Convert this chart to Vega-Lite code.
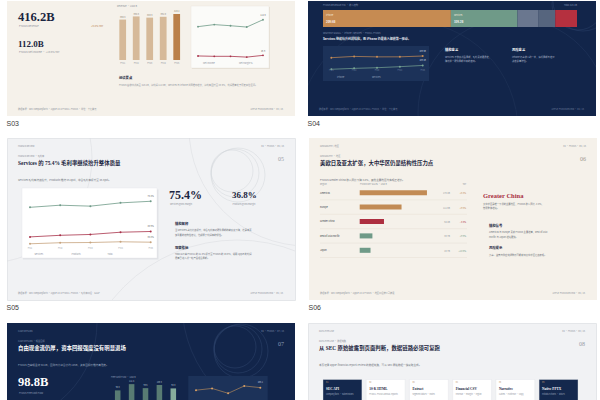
{
"$schema": "https://vega.github.io/schema/vega-lite/v6.json",
"background": "#ffffff",
"padding": {"left": 6, "top": 0, "right": 0, "bottom": 0},
"spacing": 10,
"config": {
 "view": {"stroke": null},
 "axis": {"disable": true},
 "legend": {"disable": true},
 "title": {"orient": "bottom", "anchor": "start", "fontSize": 7, "font": "Liberation Sans", "fontWeight": "normal", "color": "#3a3a3a", "offset": 4},
 "text": {"font": "Noto Sans CJK SC", "fontSize": 2.6, "color": "#8d919a", "align": "left", "baseline": "alphabetic"},
 "point": {"filled": true, "size": 3.5, "opacity": 1},
 "line": {"strokeWidth": 0.8},
 "style": {
  "num": {"font": "Liberation Serif", "fontWeight": "bold"}
 }
},
"datasets": {
 "one": [{}],
 "rev": [{"fy": "FY21", "v": 365.8}, {"fy": "FY22", "v": 394.3}, {"fy": "FY23", "v": 383.3}, {"fy": "FY24", "v": 391.0}, {"fy": "FY25", "v": 416.2}],
 "ni": [{"fy": "FY21", "v": 94.7}, {"fy": "FY22", "v": 99.8}, {"fy": "FY23", "v": 97.0}, {"fy": "FY24", "v": 93.7}, {"fy": "FY25", "v": 112.0}],
 "nm": [{"fy": "FY21", "v": 25.9}, {"fy": "FY22", "v": 25.3}, {"fy": "FY23", "v": 25.3}, {"fy": "FY24", "v": 24.0}, {"fy": "FY25", "v": 26.9}],
 "mix": [{"fy": "FY2025", "seg": "iPhone", "v": 209.6}, {"fy": "FY2025", "seg": "Services", "v": 109.2}, {"fy": "FY2025", "seg": "Mac", "v": 33.7}, {"fy": "FY2025", "seg": "iPad", "v": 28.0}, {"fy": "FY2025", "seg": "Wearables", "v": 35.7}],
 "seg": [
  {"s": "iPhone", "fy": "FY21", "v": 191.9}, {"s": "iPhone", "fy": "FY22", "v": 205.5}, {"s": "iPhone", "fy": "FY23", "v": 200.6}, {"s": "iPhone", "fy": "FY24", "v": 201.2}, {"s": "iPhone", "fy": "FY25", "v": 209.6},
  {"s": "Services", "fy": "FY21", "v": 68.4}, {"s": "Services", "fy": "FY22", "v": 78.1}, {"s": "Services", "fy": "FY23", "v": 85.2}, {"s": "Services", "fy": "FY24", "v": 96.2}, {"s": "Services", "fy": "FY25", "v": 109.2}],
 "gm": [
  {"s": "Services", "fy": "FY21", "v": 69.7}, {"s": "Services", "fy": "FY22", "v": 71.7}, {"s": "Services", "fy": "FY23", "v": 70.8}, {"s": "Services", "fy": "FY24", "v": 73.9}, {"s": "Services", "fy": "FY25", "v": 75.4},
  {"s": "Products", "fy": "FY21", "v": 35.3}, {"s": "Products", "fy": "FY22", "v": 36.3}, {"s": "Products", "fy": "FY23", "v": 36.5}, {"s": "Products", "fy": "FY24", "v": 37.2}, {"s": "Products", "fy": "FY25", "v": 36.8},
  {"s": "Total", "fy": "FY21", "v": 41.8}, {"s": "Total", "fy": "FY22", "v": 43.3}, {"s": "Total", "fy": "FY23", "v": 44.1}, {"s": "Total", "fy": "FY24", "v": 46.2}, {"s": "Total", "fy": "FY25", "v": 46.9}],
 "geo": [{"region": "Americas", "v": 178.4, "yoy": 0.068}, {"region": "Europe", "v": 111.0, "yoy": 0.096}, {"region": "Greater China", "v": 64.4, "yoy": -0.038}, {"region": "Rest of Asia Pacific", "v": 33.7, "yoy": 0.099}, {"region": "Japan", "v": 28.7, "yoy": 0.146}],
 "fcf": [{"fy": "FY21", "v": 93.0}, {"fy": "FY22", "v": 111.4}, {"fy": "FY23", "v": 99.6}, {"fy": "FY24", "v": 108.8}, {"fy": "FY25", "v": 98.8}],
 "ret": [{"fy": "FY21", "v": 100.0}, {"fy": "FY22", "v": 104.2}, {"fy": "FY23", "v": 92.6}, {"fy": "FY24", "v": 110.1}, {"fy": "FY25", "v": 106.1}],
 "flow": [{"step": "01", "name": "SEC API", "desc": "companyfacts · submissions"}, {"step": "02", "name": "10-K HTML", "desc": "FY2021–FY2025 annual reports"}, {"step": "03", "name": "Extract", "desc": "segment tables · notes"}, {"step": "04", "name": "Financial CSV", "desc": "revenue · margin · region"}, {"step": "05", "name": "Narrative", "desc": "claims · evidence · copy"}, {"step": "06", "name": "Native PPTX", "desc": "editable charts · tables"}]
},
"vconcat": [
 {"hconcat": [
  {"width": 288, "height": 115, "view": {"fill": "#f5f1ea"}, "title": "S03", "data": {"name": "one"},
   "resolve": {"scale": {"x": "independent", "y": "independent", "color": "independent"}},
   "layer": [
    {"mark": {"type": "text", "style": "num", "text": "416.2B", "x": 11, "y": 19.5, "fontSize": 12.5, "color": "#1b2540"}, "encoding": {}},
    {"mark": {"type": "text", "text": "FY2025 Revenue", "x": 12, "y": 26}, "encoding": {}},
    {"mark": {"type": "text", "text": "+6.4% YoY", "x": 84, "y": 26, "color": "#b9834f"}, "encoding": {}},
    {"mark": {"type": "text", "style": "num", "text": "112.0B", "x": 11, "y": 45.5, "fontSize": 9, "color": "#1b2540"}, "encoding": {}},
    {"mark": {"type": "text", "text": "FY2025 Net Income · +19.5% YoY", "x": 12, "y": 52}, "encoding": {}},
    {"mark": {"type": "text", "text": "Revenue · USD B", "x": 110, "y": 6, "fontSize": 2.4}, "encoding": {}},
    {"mark": {"type": "rule", "x": 108, "x2": 178, "y": 59.3, "stroke": "#ddd4c6", "strokeWidth": 0.4}, "encoding": {}},
    {"data": {"name": "rev"},
     "encoding": {"x": {"field": "fy", "type": "nominal", "sort": null, "scale": {"range": [108.95, 176.45], "paddingInner": 0.5, "paddingOuter": 0.25}},
                  "y": {"field": "v", "type": "quantitative", "scale": {"domain": [0, 416.2], "range": [59, 13]}}},
     "layer": [
      {"mark": {"type": "bar"}, "encoding": {"color": {"condition": {"test": "datum.fy === 'FY25'", "value": "#ba7f49"}, "value": "#d6b999"}}},
      {"mark": {"type": "text", "align": "center", "dy": -2, "fontSize": 2.2, "color": "#8a7f70"}, "encoding": {"text": {"field": "v", "type": "quantitative", "format": ".1f"}}},
      {"mark": {"type": "text", "align": "center", "dy": 4, "fontSize": 2.2}, "encoding": {"y": {"datum": 0}, "text": {"field": "fy"}}}
     ]},
    {"mark": {"type": "rect", "x": 185, "y": 6, "x2": 263, "y2": 68, "fill": "#e6e0d6"}, "encoding": {}},
    {"mark": {"type": "rect", "x": 184, "y": 5, "x2": 262, "y2": 67, "fill": "#fbfbf9", "stroke": "#e8e3da", "strokeWidth": 0.4}, "encoding": {}},
    {"mark": {"type": "rule", "x": 188, "x2": 259, "y": 13, "stroke": "#ebebe8", "strokeWidth": 0.4}, "encoding": {}},
    {"mark": {"type": "rule", "x": 188, "x2": 259, "y": 29, "stroke": "#ebebe8", "strokeWidth": 0.4}, "encoding": {}},
    {"mark": {"type": "rule", "x": 188, "x2": 259, "y": 43, "stroke": "#ebebe8", "strokeWidth": 0.4}, "encoding": {}},
    {"data": {"name": "ni"},
     "encoding": {"x": {"field": "fy", "type": "ordinal", "scale": {"type": "point", "range": [191, 256], "padding": 0}},
                  "y": {"field": "v", "type": "quantitative", "scale": {"domain": [0, 130], "range": [63.6, 11.5]}}},
     "layer": [
      {"mark": {"type": "line", "color": "#6f9a88"}, "encoding": {}},
      {"mark": {"type": "point", "color": "#6f9a88"}, "encoding": {}},
      {"transform": [{"filter": "datum.fy === 'FY25'"}], "mark": {"type": "text", "align": "center", "dy": -4, "fontSize": 2.2, "color": "#666"}, "encoding": {"text": {"field": "v", "type": "quantitative", "format": ".1f"}}}
     ]},
    {"data": {"name": "nm"},
     "encoding": {"x": {"field": "fy", "type": "ordinal", "scale": {"type": "point", "range": [191, 256], "padding": 0}},
                  "y": {"field": "v", "type": "quantitative", "scale": {"domain": [0, 100], "range": [70.5, 10.5]}}},
     "layer": [
      {"mark": {"type": "line", "color": "#a8324a"}, "encoding": {}},
      {"mark": {"type": "point", "color": "#a8324a"}, "encoding": {}},
      {"transform": [{"filter": "datum.fy === 'FY25'"}], "mark": {"type": "text", "align": "center", "dy": -4, "fontSize": 2.2, "color": "#666"}, "encoding": {"text": {"field": "v", "type": "quantitative", "format": ".1f"}}}
     ]},
    {"mark": {"type": "rule", "x": 191, "x2": 194.5, "y": 62, "stroke": "#6f9a88", "strokeWidth": 1.2}, "encoding": {}},
    {"mark": {"type": "text", "text": "Net Income", "x": 196, "y": 62.9, "fontSize": 2.2}, "encoding": {}},
    {"mark": {"type": "rule", "x": 227, "x2": 230.5, "y": 62, "stroke": "#a8324a", "strokeWidth": 1.2}, "encoding": {}},
    {"mark": {"type": "text", "text": "Net Margin %", "x": 232, "y": 62.9, "fontSize": 2.2}, "encoding": {}},
    {"mark": {"type": "rule", "x": 109, "x2": 109, "y": 73, "y2": 88, "stroke": "#a47d55", "strokeWidth": 1}, "encoding": {}},
    {"mark": {"type": "text", "text": "阅读要点", "x": 112, "y": 77.5, "fontSize": 3.3, "fontWeight": "bold", "color": "#1b2540"}, "encoding": {}},
    {"mark": {"type": "text", "text": "FY2025 营收创新高至 416.2B，净利润 112.0B；Services 与 iPhone 共同推动增长，净利率回升至 26.9%，利润质量处于历史高位区间。", "x": 112, "y": 85, "fontSize": 2.3}, "encoding": {}},
    {"mark": {"type": "rule", "x": 11, "x2": 276, "y": 104, "stroke": "#d2cbbf", "strokeWidth": 0.6}, "encoding": {}},
    {"mark": {"type": "text", "text": "数据来源：SEC companyfacts · Apple 10-K FY2021–FY2025 · 单位：十亿美元", "x": 11, "y": 108.6, "fontSize": 2.2}, "encoding": {}},
    {"mark": {"type": "text", "text": "APPLE FY2025 REVIEW · 03 / 16", "x": 276, "y": 108.6, "fontSize": 2.2, "align": "right"}, "encoding": {}}
   ]},
  {"width": 288, "height": 115, "view": {"fill": "#12254a"}, "title": "S04", "data": {"name": "one"},
   "resolve": {"scale": {"x": "independent", "y": "independent", "color": "independent"}},
   "layer": [
    {"mark": {"type": "point", "shape": "circle", "x": 205, "y": 112, "size": 36100, "filled": false, "stroke": "#25395f", "strokeWidth": 0.5, "clip": true}, "encoding": {}},
    {"mark": {"type": "point", "shape": "circle", "x": 100, "y": 130, "size": 48400, "filled": false, "stroke": "#22365b", "strokeWidth": 0.5, "clip": true}, "encoding": {}},
    {"mark": {"type": "point", "shape": "circle", "x": 275, "y": 0, "size": 3600, "filled": false, "stroke": "#2b4068", "strokeWidth": 0.5, "clip": true}, "encoding": {}},
    {"mark": {"type": "point", "shape": "circle", "x": 270, "y": 3, "size": 2704, "filled": false, "stroke": "#2b4068", "strokeWidth": 0.5, "clip": true}, "encoding": {}},
    {"mark": {"type": "text", "text": "FY2025 REVENUE MIX · 收入结构", "x": 15, "y": 5, "fontSize": 2.3, "color": "#7f8fae"}, "encoding": {}},
    {"mark": {"type": "text", "text": "Total 416.2B", "x": 269, "y": 5, "fontSize": 2.3, "color": "#7f8fae", "align": "right"}, "encoding": {}},
    {"data": {"name": "mix"},
     "transform": [{"window": [{"op": "row_number", "as": "idx"}]}, {"stack": "v", "groupby": [], "sort": [{"field": "idx", "order": "ascending"}], "as": ["v0", "v1"]}, {"calculate": "format(datum.v, '.1f') + 'B'", "as": "lab"}],
     "encoding": {"x": {"field": "v0", "type": "quantitative", "scale": {"domain": [0, 416.2], "range": [15, 269]}},
                  "y": {"field": "fy", "type": "nominal", "scale": {"range": [9, 26], "paddingInner": 0, "paddingOuter": 0}}},
     "layer": [
      {"mark": {"type": "bar"}, "encoding": {"x2": {"field": "v1"}, "color": {"field": "seg", "type": "nominal", "scale": {"domain": ["iPhone", "Services", "Mac", "iPad", "Wearables"], "range": ["#c68b52", "#6f9a88", "#6a778f", "#56657e", "#b5303f"]}}}},
      {"transform": [{"filter": "datum.idx <= 2"}], "mark": {"type": "text", "dx": 3, "dy": -2.5, "fontSize": 2.2, "color": "#f3e8da"}, "encoding": {"text": {"field": "seg"}}},
      {"transform": [{"filter": "datum.idx <= 2"}], "mark": {"type": "text", "dx": 3, "dy": 4, "fontSize": 2.8, "fontWeight": "bold", "color": "#ffffff"}, "encoding": {"text": {"field": "lab"}}}
     ]},
    {"mark": {"type": "rule", "x": 15, "x2": 269, "y": 29, "stroke": "#2b4068", "strokeWidth": 0.4}, "encoding": {}},
    {"mark": {"type": "text", "text": "SEGMENT SIGNAL · iPhone / Services · FY2021–FY2025", "x": 15, "y": 33, "fontSize": 2.2, "color": "#7f8fae"}, "encoding": {}},
    {"mark": {"type": "text", "text": "Services 继续抬升利润结构，而 iPhone 仍是收入规模第一驱动。", "x": 15, "y": 39, "fontSize": 3, "fontWeight": "bold", "color": "#e8ecf3"}, "encoding": {}},
    {"mark": {"type": "rect", "x": 15, "y": 45, "x2": 121, "y2": 80, "fill": "#1c3259"}, "encoding": {}},
    {"data": {"name": "seg"},
     "transform": [{"calculate": "format(datum.v, '.1f') + 'B'", "as": "lab"}],
     "encoding": {"x": {"field": "fy", "type": "ordinal", "scale": {"type": "point", "range": [23.3, 114.7], "padding": 0}},
                  "y": {"field": "v", "type": "quantitative", "scale": {"domain": [0, 260], "range": [74.7, 50.3]}},
                  "color": {"field": "s", "type": "nominal", "scale": {"domain": ["iPhone", "Services"], "range": ["#c98d55", "#7aa694"]}}},
     "layer": [
      {"mark": {"type": "line", "strokeWidth": 0.7}, "encoding": {}},
      {"mark": {"type": "point", "size": 4}, "encoding": {}},
      {"transform": [{"filter": "datum.fy === 'FY25'"}], "mark": {"type": "text", "align": "center", "dy": -4, "fontSize": 2.1}, "encoding": {"text": {"field": "lab"}, "color": {"value": "#c9d2e0"}}},
      {"transform": [{"filter": "datum.s === 'Services'"}], "mark": {"type": "text", "align": "center", "fontSize": 2.1}, "encoding": {"y": {"datum": 42}, "text": {"field": "fy"}, "color": {"value": "#6f80a0"}}}
     ]},
    {"mark": {"type": "rule", "x": 24, "x2": 27.5, "y": 75.3, "stroke": "#c98d55", "strokeWidth": 1.2}, "encoding": {}},
    {"mark": {"type": "text", "text": "iPhone", "x": 29, "y": 76.2, "fontSize": 2.2, "color": "#9aa6bd"}, "encoding": {}},
    {"mark": {"type": "rule", "x": 59, "x2": 62.5, "y": 75.3, "stroke": "#7aa694", "strokeWidth": 1.2}, "encoding": {}},
    {"mark": {"type": "text", "text": "Services", "x": 64, "y": 76.2, "fontSize": 2.2, "color": "#9aa6bd"}, "encoding": {}},
    {"mark": {"type": "rule", "x": 133.7, "x2": 133.7, "y": 45, "y2": 72, "stroke": "#c08a55", "strokeWidth": 1}, "encoding": {}},
    {"mark": {"type": "text", "text": "结构意义", "x": 137, "y": 49.5, "fontSize": 3.3, "fontWeight": "bold", "color": "#ffffff"}, "encoding": {}},
    {"mark": {"type": "text", "text": "Services 不依赖新品周期，毛利贡献更稳定，", "x": 137, "y": 56.5, "fontSize": 2.3, "color": "#aab5c8"}, "encoding": {}},
    {"mark": {"type": "text", "text": "降低单一硬件周期带来的波动。", "x": 137, "y": 61, "fontSize": 2.3, "color": "#aab5c8"}, "encoding": {}},
    {"mark": {"type": "rule", "x": 200.7, "x2": 200.7, "y": 45, "y2": 72, "stroke": "#c08a55", "strokeWidth": 1}, "encoding": {}},
    {"mark": {"type": "text", "text": "风险意义", "x": 204, "y": 49.5, "fontSize": 3.3, "fontWeight": "bold", "color": "#ffffff"}, "encoding": {}},
    {"mark": {"type": "text", "text": "iPhone 仍占收入约一半，换机周期与定价", "x": 204, "y": 56.5, "fontSize": 2.3, "color": "#aab5c8"}, "encoding": {}},
    {"mark": {"type": "text", "text": "决定总量弹性。", "x": 204, "y": 61, "fontSize": 2.3, "color": "#aab5c8"}, "encoding": {}},
    {"mark": {"type": "rule", "x": 11, "x2": 276, "y": 104, "stroke": "#2b4068", "strokeWidth": 0.6}, "encoding": {}},
    {"mark": {"type": "text", "text": "数据来源：SEC companyfacts · Apple 10-K FY2021–FY2025 · 单位：十亿美元", "x": 11, "y": 108.6, "fontSize": 2.2, "color": "#6d7e9e"}, "encoding": {}},
    {"mark": {"type": "text", "text": "APPLE FY2025 REVIEW · 04 / 16", "x": 276, "y": 108.6, "fontSize": 2.2, "align": "right", "color": "#6d7e9e"}, "encoding": {}}
   ]}
 ], "spacing": 12},
 {"hconcat": [
  {"width": 288, "height": 162, "view": {"fill": "#f1f2f4", "stroke": "#e4e6e9"}, "title": "S05", "data": {"name": "one"},
   "resolve": {"scale": {"x": "independent", "y": "independent", "color": "independent"}},
   "layer": [
    {"mark": {"type": "point", "shape": "circle", "x": -20, "y": 20, "size": 44100, "filled": false, "stroke": "#d9dbdf", "strokeWidth": 0.5, "clip": true}, "encoding": {}},
    {"mark": {"type": "point", "shape": "circle", "x": 300, "y": -10, "size": 55696, "filled": false, "stroke": "#d9dbdf", "strokeWidth": 0.5, "clip": true}, "encoding": {}},
    {"mark": {"type": "point", "shape": "circle", "x": 230, "y": 262, "size": 102400, "filled": false, "stroke": "#d9dbdf", "strokeWidth": 0.5, "clip": true}, "encoding": {}},
    {"mark": {"type": "point", "shape": "circle", "x": 228, "y": 35, "size": 2304, "filled": false, "stroke": "#d3d6da", "strokeWidth": 0.5, "clip": true}, "encoding": {}},
    {"mark": {"type": "point", "shape": "circle", "x": 231, "y": 37, "size": 2916, "filled": false, "stroke": "#d3d6da", "strokeWidth": 0.5, "clip": true}, "encoding": {}},
    {"mark": {"type": "point", "shape": "circle", "x": 225, "y": 33, "size": 1764, "filled": false, "stroke": "#d3d6da", "strokeWidth": 0.5, "clip": true}, "encoding": {}},
    {"mark": {"type": "text", "text": "MARGIN REVIEW", "x": 11, "y": 9, "fontSize": 2.2}, "encoding": {}},
    {"mark": {"type": "text", "text": "04 · FY2025 · 05 / 16", "x": 277, "y": 9, "fontSize": 2.2, "align": "right"}, "encoding": {}},
    {"mark": {"type": "text", "text": "MARGIN REVIEW · 毛利率", "x": 11, "y": 19, "fontSize": 2.2}, "encoding": {}},
    {"mark": {"type": "text", "text": "Services 的 75.4% 毛利率继续抬升整体质量", "x": 11, "y": 27, "font": "Liberation Serif, Noto Sans CJK SC", "fontWeight": "bold", "fontSize": 5.4, "color": "#1b2540"}, "encoding": {}},
    {"mark": {"type": "text", "text": "05", "x": 277, "y": 23, "font": "Liberation Serif", "fontSize": 6, "align": "right", "color": "#9aa0a8"}, "encoding": {}},
    {"mark": {"type": "text", "text": "Services 毛利率持续抬升，Products 维持 36.8pct，综合毛利率提升至 46.9pct。", "x": 11, "y": 43, "fontSize": 2.6, "color": "#6f747c"}, "encoding": {}},
    {"mark": {"type": "rect", "x": 16, "y": 51.5, "x2": 151.5, "y2": 121.5, "fill": "#e1e3e7"}, "encoding": {}},
    {"mark": {"type": "rect", "x": 15, "y": 50, "x2": 150, "y2": 120, "fill": "#ffffff", "stroke": "#e4e6ea", "strokeWidth": 0.4}, "encoding": {}},
    {"mark": {"type": "rule", "x": 19, "x2": 147, "y": 62, "stroke": "#eef0f2", "strokeWidth": 0.4}, "encoding": {}},
    {"mark": {"type": "rule", "x": 19, "x2": 147, "y": 78, "stroke": "#eef0f2", "strokeWidth": 0.4}, "encoding": {}},
    {"mark": {"type": "rule", "x": 19, "x2": 147, "y": 94, "stroke": "#eef0f2", "strokeWidth": 0.4}, "encoding": {}},
    {"data": {"name": "gm"},
     "transform": [{"calculate": "format(datum.v, '.1f') + '%'", "as": "lab"}],
     "encoding": {"x": {"field": "fy", "type": "ordinal", "scale": {"type": "point", "range": [23, 143.7], "padding": 0}},
                  "y": {"field": "v", "type": "quantitative", "scale": {"domain": [30, 80], "range": [111.4, 58.4]}},
                  "color": {"field": "s", "type": "nominal", "scale": {"domain": ["Services", "Products", "Total"], "range": ["#6f9a88", "#c6a37d", "#a8324a"]}}},
     "layer": [
      {"mark": {"type": "line"}, "encoding": {}},
      {"mark": {"type": "point", "size": 4}, "encoding": {}},
      {"transform": [{"filter": "datum.fy === 'FY25'"}], "mark": {"type": "text", "align": "center", "dy": -4.5, "fontSize": 2.2}, "encoding": {"text": {"field": "lab"}, "color": {"value": "#666"}}},
      {"transform": [{"filter": "datum.s === 'Total'"}], "mark": {"type": "text", "align": "center", "fontSize": 2.1}, "encoding": {"y": {"datum": 30}, "text": {"field": "fy"}, "color": {"value": "#a0a4aa"}}}
     ]},
    {"mark": {"type": "rule", "x": 22, "x2": 26, "y": 115.3, "stroke": "#6f9a88", "strokeWidth": 1.2}, "encoding": {}},
    {"mark": {"type": "text", "text": "Services", "x": 27.5, "y": 116.2, "fontSize": 2.2}, "encoding": {}},
    {"mark": {"type": "rule", "x": 59, "x2": 63, "y": 115.3, "stroke": "#c6a37d", "strokeWidth": 1.2}, "encoding": {}},
    {"mark": {"type": "text", "text": "Products", "x": 64.5, "y": 116.2, "fontSize": 2.2}, "encoding": {}},
    {"mark": {"type": "rule", "x": 95, "x2": 99, "y": 115.3, "stroke": "#a8324a", "strokeWidth": 1.2}, "encoding": {}},
    {"mark": {"type": "text", "text": "Total", "x": 100.5, "y": 116.2, "fontSize": 2.2}, "encoding": {}},
    {"mark": {"type": "text", "style": "num", "text": "75.4%", "x": 162, "y": 61, "fontSize": 12, "color": "#1b2540"}, "encoding": {}},
    {"mark": {"type": "text", "text": "Services gross margin", "x": 163, "y": 66.5, "fontSize": 2.2}, "encoding": {}},
    {"mark": {"type": "rule", "x": 209, "x2": 209, "y": 52, "y2": 72, "stroke": "#d5d8dc", "strokeWidth": 0.5}, "encoding": {}},
    {"mark": {"type": "text", "style": "num", "text": "36.8%", "x": 225, "y": 59.5, "fontSize": 9, "color": "#1b2540"}, "encoding": {}},
    {"mark": {"type": "text", "text": "Products gross margin", "x": 225.5, "y": 66.5, "fontSize": 2.2}, "encoding": {}},
    {"mark": {"type": "rule", "x": 164.7, "x2": 164.7, "y": 81.3, "y2": 98, "stroke": "#b58a5c", "strokeWidth": 1}, "encoding": {}},
    {"mark": {"type": "text", "text": "结构解释", "x": 168, "y": 87, "fontSize": 3.3, "fontWeight": "bold", "color": "#1b2540"}, "encoding": {}},
    {"mark": {"type": "text", "text": "当 Services 占比持续提升，综合毛利率对硬件周期的敏感度下降，这是本页", "x": 168, "y": 93, "fontSize": 2.3, "color": "#6f747c"}, "encoding": {}},
    {"mark": {"type": "text", "text": "最重要的结构性结论，也解释了利润率的韧性。", "x": 168, "y": 97.3, "fontSize": 2.3, "color": "#6f747c"}, "encoding": {}},
    {"mark": {"type": "rule", "x": 164.7, "x2": 164.7, "y": 105, "y2": 121, "stroke": "#b58a5c", "strokeWidth": 1}, "encoding": {}},
    {"mark": {"type": "text", "text": "观察指标", "x": 168, "y": 110.5, "fontSize": 3.3, "fontWeight": "bold", "color": "#1b2540"}, "encoding": {}},
    {"mark": {"type": "text", "text": "Total GM 由 FY2021 的 41.8% 提升至 FY2025 的 46.9%，说明 Apple 的利润", "x": 168, "y": 116.5, "fontSize": 2.3, "color": "#6f747c"}, "encoding": {}},
    {"mark": {"type": "text", "text": "质量已进入新一轮产品组合周期。", "x": 168, "y": 120.8, "fontSize": 2.3, "color": "#6f747c"}, "encoding": {}},
    {"mark": {"type": "rule", "x": 11, "x2": 276, "y": 151, "stroke": "#d3d6da", "strokeWidth": 0.6}, "encoding": {}},
    {"mark": {"type": "text", "text": "数据来源：SEC companyfacts · Apple 10-K FY2021–FY2025 · 毛利率口径：GAAP", "x": 11, "y": 155.5, "fontSize": 2.2}, "encoding": {}},
    {"mark": {"type": "text", "text": "APPLE FY2025 REVIEW · 05 / 16", "x": 276, "y": 155.5, "fontSize": 2.2, "align": "right"}, "encoding": {}}
   ]},
  {"width": 288, "height": 162, "view": {"fill": "#f5f1ea"}, "title": "S06", "data": {"name": "one"},
   "resolve": {"scale": {"x": "independent", "y": "independent", "color": "independent"}},
   "layer": [
    {"mark": {"type": "text", "text": "GEOGRAPHY / 地区", "x": 11, "y": 9, "fontSize": 2.2}, "encoding": {}},
    {"mark": {"type": "text", "text": "04 · FY2025 · 06 / 16", "x": 277, "y": 9, "fontSize": 2.2, "align": "right"}, "encoding": {}},
    {"mark": {"type": "text", "text": "GEOGRAPHY · 地区", "x": 11, "y": 19, "fontSize": 2.2}, "encoding": {}},
    {"mark": {"type": "text", "text": "美欧日及亚太扩张，大中华区仍是结构性压力点", "x": 11, "y": 27, "font": "Liberation Serif, Noto Sans CJK SC", "fontWeight": "bold", "fontSize": 5.4, "color": "#1b2540"}, "encoding": {}},
    {"mark": {"type": "text", "text": "06", "x": 277, "y": 23, "font": "Liberation Serif", "fontSize": 6, "align": "right", "color": "#a09a90"}, "encoding": {}},
    {"mark": {"type": "text", "text": "FY2025 Greater China 收入同比下降 3.8%，其他主要地区均实现正增长。", "x": 11, "y": 43, "fontSize": 2.6, "color": "#6f747c"}, "encoding": {}},
    {"mark": {"type": "text", "text": "Region", "x": 11, "y": 47, "fontSize": 2.1}, "encoding": {}},
    {"mark": {"type": "text", "text": "FY2025 NET SALES · USD B", "x": 51, "y": 47, "fontSize": 2.1}, "encoding": {}},
    {"mark": {"type": "text", "text": "YoY", "x": 157, "y": 47, "fontSize": 2.1, "align": "right"}, "encoding": {}},
    {"data": {"name": "geo"},
     "transform": [{"calculate": "format(datum.v, '.1f') + 'B'", "as": "lab"}],
     "encoding": {"y": {"field": "region", "type": "nominal", "sort": null, "scale": {"range": [47.5, 119.5], "paddingInner": 0.65, "paddingOuter": 0.325}},
                  "color": {"field": "region", "type": "nominal", "sort": null, "scale": {"domain": ["Americas", "Europe", "Greater China", "Rest of Asia Pacific", "Japan"], "range": ["#c28b55", "#c28b55", "#ad2f40", "#6f9a88", "#6f9a88"]}}},
     "layer": [
      {"mark": {"type": "rule", "x": 11, "x2": 158, "yOffset": 7.2, "stroke": "#e2dbcf", "strokeWidth": 0.4}, "encoding": {"color": {"value": "#e2dbcf"}}},
      {"mark": {"type": "bar"}, "encoding": {"x": {"field": "v", "type": "quantitative", "scale": {"domain": [0, 200], "range": [50.7, 126.1]}}}},
      {"mark": {"type": "text", "x": 11, "dy": -0.5, "baseline": "middle", "fontSize": 2.3}, "encoding": {"text": {"field": "region"}, "color": {"value": "#3a3f48"}}},
      {"mark": {"type": "text", "x": 141, "baseline": "middle", "align": "right", "fontSize": 2.2}, "encoding": {"text": {"field": "lab"}, "color": {"value": "#8d919a"}}},
      {"mark": {"type": "text", "x": 157, "baseline": "middle", "align": "right", "fontSize": 2.2}, "encoding": {"text": {"field": "yoy", "type": "quantitative", "format": "+.1%"}}}
     ]},
    {"mark": {"type": "text", "style": "num", "text": "Greater China", "x": 174, "y": 60, "fontSize": 6.5, "color": "#a92f42"}, "encoding": {}},
    {"mark": {"type": "text", "text": "大中华区是唯一下滑的主要地区，FY2025 收入同比 -3.8%，", "x": 174, "y": 66.5, "fontSize": 2.3, "color": "#6f747c"}, "encoding": {}},
    {"mark": {"type": "text", "text": "拖累整体增速。", "x": 174, "y": 71, "fontSize": 2.3, "color": "#6f747c"}, "encoding": {}},
    {"mark": {"type": "rule", "x": 176.7, "x2": 176.7, "y": 83.7, "y2": 99.3, "stroke": "#c08a55", "strokeWidth": 1}, "encoding": {}},
    {"mark": {"type": "text", "text": "结构信号", "x": 180, "y": 88.5, "fontSize": 3.3, "fontWeight": "bold", "color": "#1b2540"}, "encoding": {}},
    {"mark": {"type": "text", "text": "Americas 与 Europe 贡献 FY2025 主要增量，Rest of Asia", "x": 180, "y": 95, "fontSize": 2.3, "color": "#6f747c"}, "encoding": {}},
    {"mark": {"type": "text", "text": "Pacific 与 Japan 增速更快。", "x": 180, "y": 99.3, "fontSize": 2.3, "color": "#6f747c"}, "encoding": {}},
    {"mark": {"type": "rule", "x": 176.7, "x2": 176.7, "y": 106, "y2": 121.3, "stroke": "#c08a55", "strokeWidth": 1}, "encoding": {}},
    {"mark": {"type": "text", "text": "风险提示", "x": 180, "y": 111, "fontSize": 3.3, "fontWeight": "bold", "color": "#1b2540"}, "encoding": {}},
    {"mark": {"type": "text", "text": "竞争、监管与供应链调整仍可能影响大中华区后续表现。", "x": 180, "y": 117.5, "fontSize": 2.3, "color": "#6f747c"}, "encoding": {}},
    {"mark": {"type": "rule", "x": 11, "x2": 276, "y": 151, "stroke": "#d4cdc1", "strokeWidth": 0.6}, "encoding": {}},
    {"mark": {"type": "text", "text": "数据来源：SEC companyfacts · Apple 10-K FY2025 · 地区口径按公司披露", "x": 11, "y": 155.5, "fontSize": 2.2}, "encoding": {}},
    {"mark": {"type": "text", "text": "APPLE FY2025 REVIEW · 06 / 16", "x": 276, "y": 155.5, "fontSize": 2.2, "align": "right"}, "encoding": {}}
   ]}
 ], "spacing": 12},
 {"hconcat": [
  {"width": 288, "height": 90, "view": {"fill": "#12254a"}, "data": {"name": "one"},
   "resolve": {"scale": {"x": "independent", "y": "independent", "color": "independent"}},
   "layer": [
    {"mark": {"type": "point", "shape": "circle", "x": -10, "y": 0, "size": 40000, "filled": false, "stroke": "#2a3e64", "strokeWidth": 0.5, "clip": true}, "encoding": {}},
    {"mark": {"type": "point", "shape": "circle", "x": 300, "y": -20, "size": 62500, "filled": false, "stroke": "#2a3e64", "strokeWidth": 0.5, "clip": true}, "encoding": {}},
    {"mark": {"type": "point", "shape": "circle", "x": 231, "y": 26, "size": 2304, "filled": false, "stroke": "#31466e", "strokeWidth": 0.5, "clip": true}, "encoding": {}},
    {"mark": {"type": "point", "shape": "circle", "x": 234, "y": 28, "size": 2916, "filled": false, "stroke": "#31466e", "strokeWidth": 0.5, "clip": true}, "encoding": {}},
    {"mark": {"type": "point", "shape": "circle", "x": 228, "y": 24, "size": 1764, "filled": false, "stroke": "#31466e", "strokeWidth": 0.5, "clip": true}, "encoding": {}},
    {"mark": {"type": "text", "text": "CASH RETURN", "x": 11, "y": 9, "fontSize": 2.2, "color": "#7f8fae"}, "encoding": {}},
    {"mark": {"type": "text", "text": "04 · FY2025 · 07 / 16", "x": 277, "y": 9, "fontSize": 2.2, "align": "right", "color": "#7f8fae"}, "encoding": {}},
    {"mark": {"type": "text", "text": "CASH RETURN · 现金回报", "x": 11, "y": 19, "fontSize": 2.2, "color": "#7f8fae"}, "encoding": {}},
    {"mark": {"type": "text", "text": "自由现金流仍厚，资本回报强度没有明显退场", "x": 11, "y": 27, "font": "Liberation Serif, Noto Sans CJK SC", "fontWeight": "bold", "fontSize": 5.4, "color": "#ffffff"}, "encoding": {}},
    {"mark": {"type": "text", "text": "07", "x": 277, "y": 23, "font": "Liberation Serif", "fontSize": 6, "align": "right", "color": "#8d9bb5"}, "encoding": {}},
    {"mark": {"type": "text", "text": "FY2025 自由现金流 98.8B，回购与分红合计约 106B，资本回报仍维持高强度。", "x": 11, "y": 43, "fontSize": 2.6, "color": "#9aa6bd"}, "encoding": {}},
    {"mark": {"type": "text", "style": "num", "text": "98.8B", "x": 11, "y": 63.3, "fontSize": 12.5, "color": "#ffffff"}, "encoding": {}},
    {"mark": {"type": "text", "text": "FY2025 Free Cash Flow", "x": 12, "y": 71, "fontSize": 2.3, "color": "#8d9bb5"}, "encoding": {}},
    {"mark": {"type": "text", "text": "Free Cash Flow · USD B", "x": 104, "y": 54.5, "fontSize": 2.2, "color": "#8d9bb5"}, "encoding": {}},
    {"data": {"name": "fcf"},
     "encoding": {"x": {"field": "fy", "type": "nominal", "sort": null, "scale": {"range": [103.75, 173.25], "paddingInner": 0.6, "paddingOuter": 0.3}},
                  "y": {"field": "v", "type": "quantitative", "scale": {"domain": [0, 120], "range": [99, 58.2]}}},
     "layer": [
      {"mark": {"type": "bar", "clip": true}, "encoding": {"color": {"condition": {"test": "datum.fy === 'FY25'", "value": "#86ad9c"}, "value": "#587b73"}}},
      {"mark": {"type": "text", "align": "center", "dy": -2, "fontSize": 2.1, "color": "#b7c2d3"}, "encoding": {"text": {"field": "v", "type": "quantitative", "format": ".1f"}}}
     ]},
    {"mark": {"type": "rect", "x": 181.3, "y": 53, "x2": 260.7, "y2": 90, "fill": "#1c3259"}, "encoding": {}},
    {"data": {"name": "ret"},
     "encoding": {"x": {"field": "fy", "type": "ordinal", "scale": {"type": "point", "range": [189, 253.3], "padding": 0}},
                  "y": {"field": "v", "type": "quantitative", "scale": {"domain": [60, 140], "range": [84, 50.4]}}},
     "layer": [
      {"mark": {"type": "line", "color": "#c8955c", "strokeWidth": 0.6}, "encoding": {}},
      {"mark": {"type": "point", "color": "#d9a066", "size": 4}, "encoding": {}},
      {"transform": [{"filter": "datum.fy === 'FY25'"}], "mark": {"type": "text", "align": "center", "dy": -4, "fontSize": 2.1, "color": "#c9d2e0"}, "encoding": {"text": {"field": "v", "type": "quantitative", "format": ".1f"}}}
     ]}
   ]},
  {"width": 288, "height": 90, "view": {"fill": "#f1f2f4", "stroke": "#e4e6e9"}, "data": {"name": "one"},
   "resolve": {"scale": {"x": "independent", "y": "independent", "color": "independent"}},
   "layer": [
    {"mark": {"type": "text", "text": "DATA PIPELINE", "x": 11, "y": 9, "fontSize": 2.2}, "encoding": {}},
    {"mark": {"type": "text", "text": "04 · FY2025 · 08 / 16", "x": 277, "y": 9, "fontSize": 2.2, "align": "right"}, "encoding": {}},
    {"mark": {"type": "text", "text": "DATA PIPELINE · 数据链路", "x": 11, "y": 19, "fontSize": 2.2}, "encoding": {}},
    {"mark": {"type": "text", "text": "从 SEC 原始披露到页面判断，数据链路必须可复跑", "x": 11, "y": 27, "font": "Liberation Serif, Noto Sans CJK SC", "fontWeight": "bold", "fontSize": 5.4, "color": "#1b2540"}, "encoding": {}},
    {"mark": {"type": "text", "text": "08", "x": 277, "y": 23, "font": "Liberation Serif", "fontSize": 6, "align": "right", "color": "#9aa0a8"}, "encoding": {}},
    {"mark": {"type": "text", "text": "本页记录 apple-financial-report-review 的数据链路，可从 SEC 原始数据一键复跑生成。", "x": 11, "y": 43, "fontSize": 2.6, "color": "#6f747c"}, "encoding": {}},
    {"data": {"name": "flow"},
     "encoding": {"x": {"field": "step", "type": "nominal", "scale": {"range": [15, 270], "paddingInner": 0.1, "paddingOuter": 0}}},
     "layer": [
      {"mark": {"type": "rect", "y": 56.5, "y2": 100, "stroke": "#e0e3e8", "strokeWidth": 0.4}, "encoding": {"color": {"condition": {"test": "datum.step === '01' || datum.step === '06'", "value": "#14284d"}, "value": "#ffffff"}}},
      {"mark": {"type": "text", "y": 60.5, "dx": 3, "fontSize": 2.1}, "encoding": {"x": {"field": "step", "type": "nominal", "bandPosition": 0}, "text": {"field": "step"}, "color": {"value": "#c49a6c"}}},
      {"mark": {"type": "text", "style": "num", "y": 66.5, "dx": 3, "fontSize": 3.4}, "encoding": {"x": {"field": "step", "type": "nominal", "bandPosition": 0}, "text": {"field": "name"}, "color": {"condition": {"test": "datum.step === '01' || datum.step === '06'", "value": "#ffffff"}, "value": "#1b2540"}}},
      {"mark": {"type": "text", "y": 72.5, "dx": 3, "fontSize": 2}, "encoding": {"x": {"field": "step", "type": "nominal", "bandPosition": 0}, "text": {"field": "desc"}, "color": {"condition": {"test": "datum.step === '01' || datum.step === '06'", "value": "#9aa6bd"}, "value": "#8d919a"}}}
     ]}
   ]}
 ], "spacing": 12}
]
}
